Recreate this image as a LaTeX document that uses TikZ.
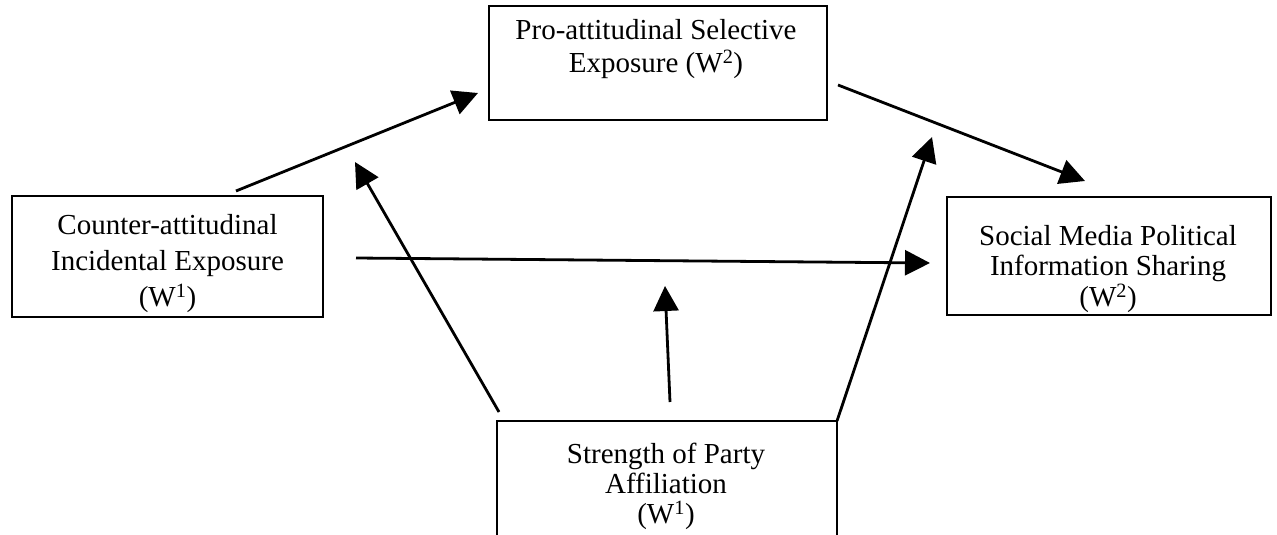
\documentclass[tikz,border=0pt]{standalone}
\usepackage{fontspec}
\setmainfont{Liberation Serif}
\usetikzlibrary{arrows.meta}
\tikzset{
  box/.style={draw, line width=2pt, inner sep=0pt, outer sep=0pt},
  txt/.style={anchor=north, align=center, inner sep=0pt},
  arr/.style={line width=2.8pt, -{Triangle[length=25pt,width=25pt]}}
}
\begin{document}
\begin{tikzpicture}[x=1pt,y=-1pt]
\useasboundingbox (0,0) rectangle (1277,535);
\clip (0,0) rectangle (1277,535);
% boxes
\node[box, minimum width=338pt, minimum height=114pt] (top) at (658,63) {};
\node[box, minimum width=311pt, minimum height=121pt] (left) at (167.5,256.5) {};
\node[box, minimum width=324pt, minimum height=118pt] (right) at (1109,256) {};
\node[box, minimum width=340pt, minimum height=140pt] (bottom) at (667,491) {};
% texts
\node[txt, font=\fontsize{29}{33}\selectfont] (toptext) at (656,19)
  {Pro-attitudinal Selective\\Exposure (W\textsuperscript{2})};
\node[txt, font=\fontsize{29}{36}\selectfont] (lefttext) at (167.5,214)
  {Counter-attitudinal\\Incidental Exposure\\(W\textsuperscript{1})};
\node[txt, font=\fontsize{29}{30.5}\selectfont] (righttext) at (1108,225)
  {Social Media Political\\Information Sharing\\(W\textsuperscript{2})};
\node[txt, font=\fontsize{29}{30}\selectfont] (bottomtext) at (666,443)
  {Strength of Party\\Affiliation\\(W\textsuperscript{1})};
% arrow end points
\coordinate (a1s) at (236,191);  \coordinate (a1e) at (478,93);
\coordinate (a2s) at (838,85);   \coordinate (a2e) at (1085,181);
\coordinate (a3s) at (356,258);  \coordinate (a3e) at (930,263);
\coordinate (a4s) at (499,412);  \coordinate (a4e) at (355,162);
\coordinate (a5s) at (670,402);  \coordinate (a5e) at (665,286);
\coordinate (a6s) at (837,421);  \coordinate (a6e) at (932,137);
\draw[arr] (a1s) -- (a1e);
\draw[arr] (a2s) -- (a2e);
\draw[arr] (a3s) -- (a3e);
\draw[arr] (a4s) -- (a4e);
\draw[arr] (a5s) -- (a5e);
\draw[arr] (a6s) -- (a6e);
\end{tikzpicture}
\end{document}
